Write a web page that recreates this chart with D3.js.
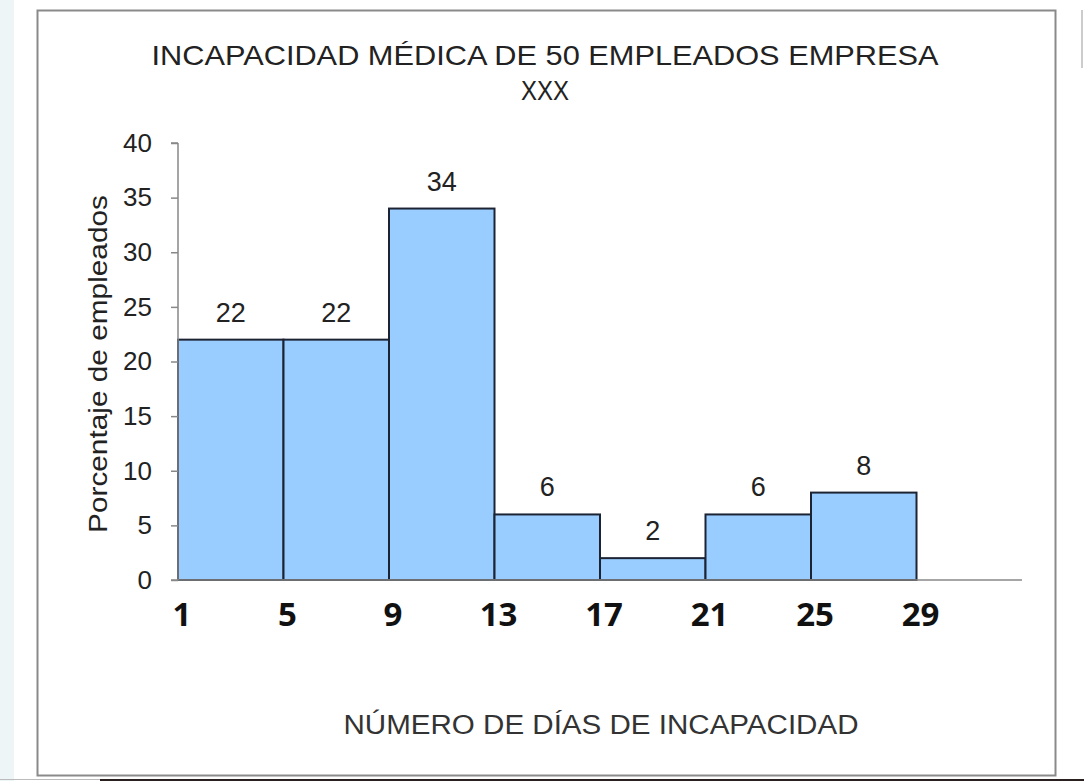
<!doctype html>
<html lang="es">
<head>
<meta charset="utf-8">
<title>Incapacidad médica</title>
<style>
  * { margin: 0; padding: 0; box-sizing: border-box; }
  body { width: 1084px; height: 781px; background: #fff; overflow: hidden; }
  svg { display: block; }
</style>
</head>
<body>
<div id="container"></div>
<script src="https://cdn.jsdelivr.net/npm/d3@7/dist/d3.min.js"></script>
<script>
  // histogram: days of incapacity in 4-day classes, % of employees
  const binStarts = [1, 5, 9, 13, 17, 21, 25];
  const binWidth = 4;
  const percents = [22, 22, 34, 6, 2, 6, 8];
  const xTicks = [1, 5, 9, 13, 17, 21, 25, 29];
  const yTicks = [0, 5, 10, 15, 20, 25, 30, 35, 40];

  const titleLines = ['INCAPACIDAD  MÉDICA DE 50 EMPLEADOS EMPRESA', 'XXX'];
  const xTitle = 'NÚMERO DE DÍAS DE INCAPACIDAD';
  const yTitle = 'Porcentaje de empleados';

  const W = 1084, H = 781;
  const sans = 'Liberation Sans, Arial, sans-serif';
  const svg = d3.select('#container').append('svg')
    .attr('width', W).attr('height', H);

  // page bits around the chart frame
  svg.append('rect').attr('x', 0).attr('y', 0).attr('width', 14).attr('height', H).attr('fill', '#eef5f7');
  svg.append('rect').attr('x', 37.5).attr('y', 10.5).attr('width', 1018).attr('height', 765)
    .attr('fill', '#fff').attr('stroke', '#8a8a8a').attr('stroke-width', 2);
  svg.append('line').attr('x1', 0).attr('x2', 100).attr('y1', 779.5).attr('y2', 779.5).attr('stroke', '#bbb');
  svg.append('line').attr('x1', 100).attr('x2', W).attr('y1', 780).attr('y2', 780).attr('stroke', '#2a2020').attr('stroke-width', 2);
  svg.append('line').attr('x1', 1082).attr('x2', 1082).attr('y1', 10).attr('y2', 68).attr('stroke', '#ccc').attr('stroke-width', 2);

  const x = d3.scaleLinear().domain([1, 33]).range([178, 1022]);
  const y = d3.scaleLinear().domain([0, 40]).range([580, 143]);

  // title
  svg.append('g').selectAll('text').data(titleLines).join('text')
    .attr('x', 545).attr('y', (d, i) => 65 + i * 35)
    .attr('text-anchor', 'middle')
    .attr('font-family', sans)
    .attr('font-size', 28).attr('fill', '#222')
    .attr('textLength', (d, i) => i === 0 ? 787 : 48)
    .attr('lengthAdjust', 'spacingAndGlyphs')
    .text(d => d);

  // bars
  svg.append('g').selectAll('rect').data(binStarts).join('rect')
    .attr('x', d => x(d))
    .attr('y', (d, i) => y(percents[i]))
    .attr('width', d => x(d + binWidth) - x(d))
    .attr('height', (d, i) => y(0) - y(percents[i]))
    .attr('fill', '#99ccff')
    .attr('stroke', '#1c2333').attr('stroke-width', 2);

  // value labels
  svg.append('g').selectAll('text').data(binStarts).join('text')
    .attr('x', d => x(d + binWidth / 2))
    .attr('y', (d, i) => y(percents[i]) - 18)
    .attr('text-anchor', 'middle')
    .attr('font-family', sans)
    .attr('font-size', 27).attr('fill', '#222')
    .text((d, i) => percents[i]);

  // y axis
  const yAxis = svg.append('g').attr('transform', `translate(${x(1)},0)`)
    .call(d3.axisLeft(y).tickValues(yTicks).tickSize(7).tickPadding(19));
  yAxis.select('.domain').attr('stroke', '#888').attr('stroke-width', 1.5).attr('d', `M0,${y(40)}H-7M0,${y(40)}V${y(0)}`);
  yAxis.selectAll('.tick line').attr('stroke', '#888').attr('stroke-width', 1.5);
  yAxis.selectAll('.tick text')
    .attr('font-family', sans)
    .attr('font-size', 26).attr('fill', '#222');

  // x axis line
  svg.append('line')
    .attr('x1', x(1) - 7).attr('x2', x(33))
    .attr('y1', y(0)).attr('y2', y(0))
    .attr('stroke', '#888').attr('stroke-width', 1.5);

  // x tick labels (bold, below the axis)
  svg.append('g').selectAll('text').data(xTicks).join('text')
    .attr('x', d => x(d) + 4)
    .attr('y', 626)
    .attr('text-anchor', 'middle')
    .attr('font-family', 'Open Sans, Liberation Sans, sans-serif')
    .attr('font-weight', 'bold')
    .attr('font-size', 33).attr('fill', '#111')
    .text(d => d);

  // axis titles
  svg.append('text')
    .attr('x', 601).attr('y', 734)
    .attr('text-anchor', 'middle')
    .attr('font-family', sans)
    .attr('font-size', 27).attr('fill', '#333')
    .attr('textLength', 515).attr('lengthAdjust', 'spacingAndGlyphs')
    .text(xTitle);

  svg.append('text')
    .attr('transform', 'translate(107,364) rotate(-90)')
    .attr('text-anchor', 'middle')
    .attr('font-family', sans)
    .attr('font-size', 26).attr('fill', '#222')
    .attr('textLength', 338).attr('lengthAdjust', 'spacingAndGlyphs')
    .text(yTitle);
</script>
</body>
</html>
